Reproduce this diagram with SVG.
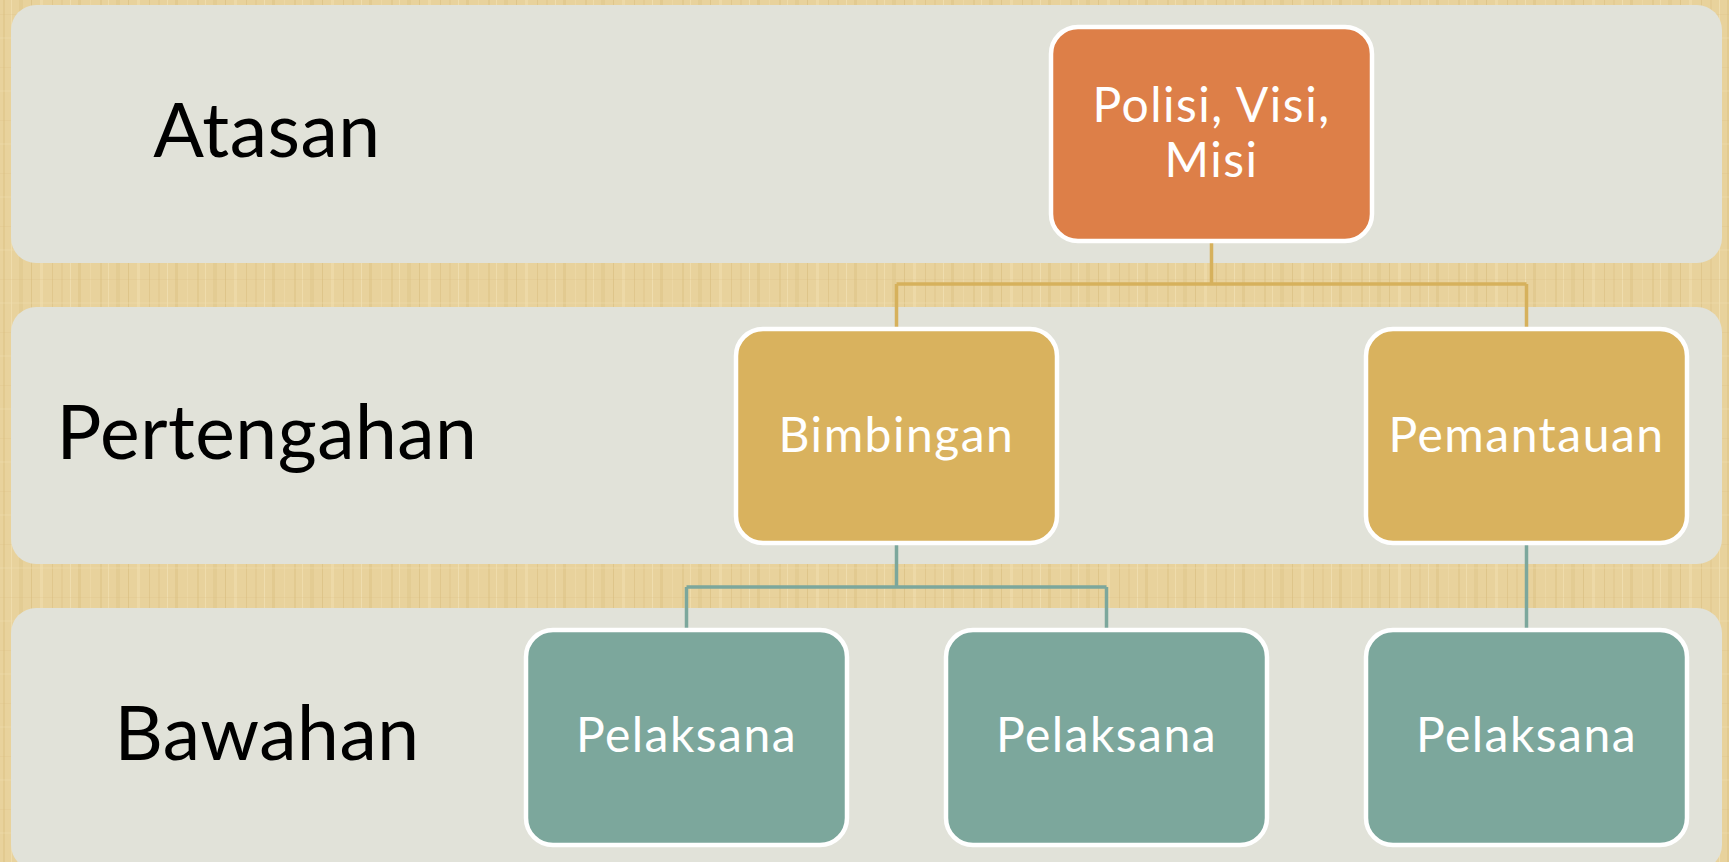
<svg xmlns="http://www.w3.org/2000/svg" width="1729" height="862" viewBox="0 0 1729 862">
  <defs>
    <!-- papyrus-like backdrop: irregular vertical fibres over a warm base -->
    <pattern id="papyrus" width="97" height="53" patternUnits="userSpaceOnUse">
      <rect width="97" height="53" fill="#e8d29c"/>
      <rect x="3" y="0" width="2" height="53" fill="#dcc184" opacity="0.5"/>
      <rect x="11" y="0" width="1" height="53" fill="#f3e2b6" opacity="0.6"/>
      <rect x="19" y="0" width="4" height="53" fill="#dabe80" opacity="0.35"/>
      <rect x="31" y="0" width="1" height="53" fill="#d4b777" opacity="0.5"/>
      <rect x="40" y="0" width="3" height="53" fill="#f2e0b2" opacity="0.5"/>
      <rect x="52" y="0" width="1" height="53" fill="#d8bb7b" opacity="0.45"/>
      <rect x="61" y="0" width="2" height="53" fill="#e0c68c" opacity="0.5"/>
      <rect x="70" y="0" width="1" height="53" fill="#f4e4bb" opacity="0.6"/>
      <rect x="78" y="0" width="3" height="53" fill="#d6b978" opacity="0.35"/>
      <rect x="90" y="0" width="1" height="53" fill="#efdcab" opacity="0.5"/>
      <rect x="0" y="14" width="97" height="1" fill="#d6ba7c" opacity="0.2"/>
      <rect x="0" y="37" width="97" height="2" fill="#f1deae" opacity="0.25"/>
    </pattern>
    <style>
      .band { fill: #e1e2d9; }
      .level { font-family: Lato, "Liberation Sans", sans-serif; font-size: 75px; fill: #000; text-anchor: middle; letter-spacing: 0.5px; }
      .box { stroke: #ffffff; stroke-width: 4.5; }
      .top { fill: #dd7f48; }
      .mid { fill: #d9b25e; }
      .low { fill: #7ca79c; }
      .label { font-family: Lato, "Liberation Sans", sans-serif; font-size: 48px; fill: #ffffff; text-anchor: middle; letter-spacing: 1.5px; }
      .link-gold { fill: none; stroke: #d6b15c; stroke-width: 3.5; }
      .link-teal { fill: none; stroke: #7ca79c; stroke-width: 3.5; }
    </style>
  </defs>

  <rect width="1729" height="862" fill="url(#papyrus)"/>

  <!-- level bands -->
  <g id="bands">
    <rect class="band" x="11" y="5" width="1711" height="258" rx="25"/>
    <rect class="band" x="11" y="307" width="1711" height="257" rx="25"/>
    <rect class="band" x="11" y="608" width="1711" height="262" rx="25"/>
    <text class="level" x="267" y="157">Atasan</text>
    <text class="level" x="267" y="459">Pertengahan</text>
    <text class="level" x="267" y="760">Bawahan</text>
  </g>

  <!-- connectors -->
  <g id="connectors">
    <path class="link-gold" d="M1211.5 243 V284 M896.5 284 H1526.5 M896.5 284 V327 M1526.5 284 V327"/>
    <path class="link-teal" d="M896.5 545 V587 M686.5 587 H1106.5 M686.5 587 V628 M1106.5 587 V628"/>
    <path class="link-teal" d="M1526.5 545 V628"/>
  </g>

  <g id="node-polisi">
    <rect class="box top" x="1051" y="27" width="321" height="214" rx="27"/>
    <text class="label" x="1211.5" y="122">Polisi, Visi,</text>
    <text class="label" x="1211.5" y="177">Misi</text>
  </g>

  <g id="node-bimbingan">
    <rect class="box mid" x="736" y="329" width="321" height="214" rx="27"/>
    <text class="label" x="896.5" y="452">Bimbingan</text>
  </g>

  <g id="node-pemantauan">
    <rect class="box mid" x="1366" y="329" width="321" height="214" rx="27"/>
    <text class="label" x="1526.5" y="452">Pemantauan</text>
  </g>

  <g id="node-pelaksana-1">
    <rect class="box low" x="526" y="630" width="321" height="215" rx="27"/>
    <text class="label" x="686.5" y="752">Pelaksana</text>
  </g>

  <g id="node-pelaksana-2">
    <rect class="box low" x="946" y="630" width="321" height="215" rx="27"/>
    <text class="label" x="1106.5" y="752">Pelaksana</text>
  </g>

  <g id="node-pelaksana-3">
    <rect class="box low" x="1366" y="630" width="321" height="215" rx="27"/>
    <text class="label" x="1526.5" y="752">Pelaksana</text>
  </g>
</svg>
